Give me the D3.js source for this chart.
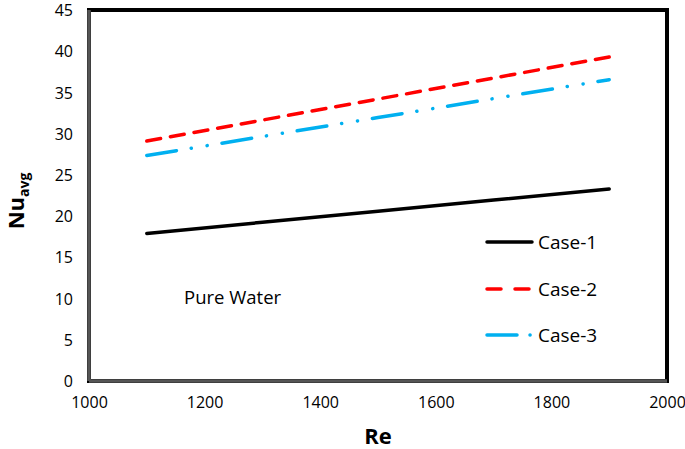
<!DOCTYPE html>
<html><head><meta charset="utf-8">
<script src="https://cdn.jsdelivr.net/npm/d3@7"></script>
<style>body{margin:0;background:#fff}svg{display:block}</style>
</head><body>
<script>
const reValues = [1100, 1300, 1500, 1700, 1900];
const case1 = [17.9, 19.25, 20.6, 21.95, 23.3];
const case2 = [29.1, 31.65, 34.2, 36.75, 39.3];
const case3 = [27.35, 29.65, 31.95, 34.25, 36.55];
const seriesNames = ["Case-1", "Case-2", "Case-3"];
const xTicks = [1000, 1200, 1400, 1600, 1800, 2000];
const yTicks = [0, 5, 10, 15, 20, 25, 30, 35, 40, 45];

const W = 685, H = 449;
const m = {left: 89, right: 18, top: 10, bottom: 68};
const svg = d3.select("body").append("svg").attr("width", W).attr("height", H);
const x = d3.scaleLinear().domain([1000, 2000]).range([m.left, W - m.right]);
const y = d3.scaleLinear().domain([0, 45]).range([H - m.bottom, m.top]);
const font = "'Open Sans', 'Liberation Sans', sans-serif";

// frame
svg.append("rect").attr("x", x(1000)).attr("y", y(45)).attr("width", x(2000) - x(1000)).attr("height", y(0) - y(45))
  .attr("fill", "none").attr("stroke", "#000").attr("stroke-width", 4);
svg.append("line").attr("x1", x(1000)).attr("x2", x(1000)).attr("y1", y(45)).attr("y2", y(0)).attr("stroke", "#555").attr("stroke-width", 3.5);
svg.append("line").attr("x1", x(1000)).attr("x2", x(2000)).attr("y1", y(0)).attr("y2", y(0)).attr("stroke", "#555").attr("stroke-width", 3.5);

// axes
const xAxis = svg.append("g").attr("transform", `translate(0,${y(0)})`)
  .call(d3.axisBottom(x).tickValues(xTicks).tickSize(0).tickPadding(16).tickFormat(d3.format("d")));
const yAxis = svg.append("g").attr("transform", `translate(${x(1000)},0)`)
  .call(d3.axisLeft(y).tickValues(yTicks).tickSize(0).tickPadding(16));
[xAxis, yAxis].forEach(g => {
  g.select(".domain").remove();
  g.selectAll("text").attr("font-family", font).attr("font-size", 16).attr("fill", "#000");
});
yAxis.selectAll("text").attr("dy", "0.35em");

// lines
const styles = [
  {color: "#000000", dash: null, width: 3.5},
  {color: "#ff0000", dash: "14,10", width: 3.5},
  {color: "#00b0f0", dash: "30,15,0.1,16,0.1,15", width: 3.5}
];
const data = [case1, case2, case3];
const line = d3.line().x((d, i) => x(reValues[i])).y(d => y(d));
data.forEach((s, k) => {
  svg.append("path").datum(s).attr("d", line).attr("fill", "none")
    .attr("stroke", styles[k].color).attr("stroke-width", styles[k].width)
    .attr("stroke-linecap", "round")
    .attr("stroke-dasharray", styles[k].dash);
});

// legend
const legY = [242, 289, 335];
seriesNames.forEach((n, k) => {
  svg.append("line").attr("x1", 487).attr("x2", 532).attr("y1", legY[k]).attr("y2", legY[k])
    .attr("stroke", styles[k].color).attr("stroke-width", styles[k].width).attr("stroke-linecap", "round")
    .attr("stroke-dasharray", k === 1 ? "14,14" : (k === 2 ? "30,13,0.1,20" : null));
  svg.append("text").attr("x", 538).attr("y", legY[k]).attr("dy", "0.35em")
    .attr("font-family", font).attr("font-size", 19).text(n);
});

svg.append("text").attr("x", 184).attr("y", 298).attr("dy", "0.35em")
  .attr("font-family", font).attr("font-size", 18.5).text("Pure Water");

// axis titles
svg.append("text").attr("x", (x(1000) + x(2000)) / 2).attr("y", 436).attr("dy", "0.35em")
  .attr("text-anchor", "middle").attr("font-family", font).attr("font-weight", "bold").attr("font-size", 22).text("Re");
const yt = svg.append("text").attr("transform", `translate(24,201) rotate(-90)`)
  .attr("text-anchor", "middle").attr("font-family", font).attr("font-weight", "bold").attr("font-size", 22);
yt.append("tspan").text("Nu");
yt.append("tspan").attr("font-size", 14).attr("dy", 5).text("avg");
</script>
</body></html>
